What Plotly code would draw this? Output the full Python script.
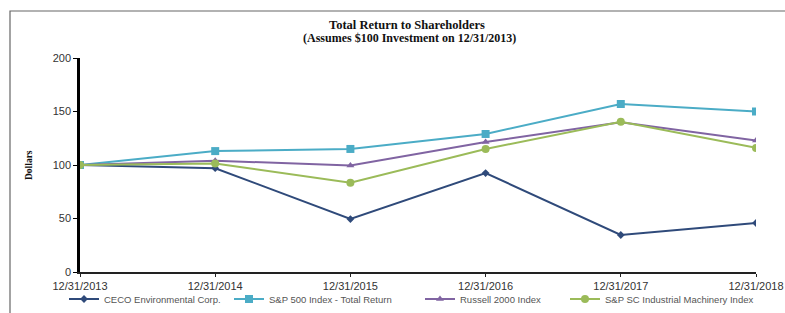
import plotly.graph_objects as go

dates = ["12/31/2013", "12/31/2014", "12/31/2015", "12/31/2016", "12/31/2017", "12/31/2018"]
ceco = [100, 97, 49.5, 92.5, 34.6, 45.8]
sp500 = [100, 113, 115, 129, 157, 150]
russell = [100, 104, 99.5, 121.5, 140, 123]
sc_mach = [100, 101.5, 83.5, 115, 140.5, 116]

series_names = ["CECO Environmental Corp.", "S&P 500 Index - Total Return",
                "Russell 2000 Index", "S&P SC Industrial Machinery Index"]
colors = ["#2F4A7A", "#4BACC6", "#8064A2", "#9BBB59"]
symbols = ["diamond", "square", "triangle-up", "circle"]
sizes = [6, 8, 7, 8]
entry_widths = [120, 146, 100, None]

fig = go.Figure()
for name, vals, c, s, sz, ew in zip(series_names, [ceco, sp500, russell, sc_mach],
                                    colors, symbols, sizes, entry_widths):
    tr = go.Scatter(
        x=dates, y=vals, name=name, mode="lines+markers",
        line=dict(color=c, width=2),
        marker=dict(symbol=s, size=sz, color=c),
    )
    if ew:
        tr.legendwidth = ew
    fig.add_trace(tr)

PW, PH = 676, 214  # plot area size in px
def px_x(x):
    return (x - 80) / PW
def px_y(y):
    return (272 - y) / PH

fig.update_layout(
    width=785, height=313,
    margin=dict(l=80, r=29, t=58, b=41, autoexpand=False),
    paper_bgcolor="white", plot_bgcolor="white",
    showlegend=True,
    legend=dict(
        orientation="h", x=px_x(64), xanchor="left", y=px_y(299), yanchor="middle",
        font=dict(family="Liberation Sans", size=9.5, color="#555"),
        itemwidth=30, tracegroupgap=0, bgcolor="rgba(0,0,0,0)",
    ),
    annotations=[
        dict(text="<b>Total Return to Shareholders</b>", xref="paper", yref="paper",
             x=px_x(407), y=px_y(25), xanchor="center", yanchor="middle",
             showarrow=False, font=dict(family="Liberation Serif", size=12.5, color="#111")),
        dict(text="<b>(Assumes $100 Investment on 12/31/2013)</b>", xref="paper", yref="paper",
             x=px_x(409), y=px_y(38.5), xanchor="center", yanchor="middle",
             showarrow=False, font=dict(family="Liberation Serif", size=12, color="#111")),
        dict(text="<b>Dollars</b>", xref="paper", yref="paper",
             x=px_x(29), y=px_y(165), xanchor="center", yanchor="middle", textangle=-90,
             showarrow=False, font=dict(family="Liberation Serif", size=9.5, color="#111")),
    ],
    shapes=[dict(type="rect", xref="paper", yref="paper",
                 x0=px_x(10), x1=1.2, y0=-0.5, y1=px_y(11),
                 line=dict(color="#666", width=1.2), fillcolor="rgba(0,0,0,0)", layer="below")],
)

fig.update_xaxes(
    type="category", range=[0, 5], showgrid=False, zeroline=False, automargin=False,
    showline=True, linecolor="#222", linewidth=1.5,
    ticks="outside", ticklen=3, tickcolor="#222",
    tickfont=dict(family="Liberation Sans", size=11, color="#333"),
)
fig.update_yaxes(
    range=[0, 200], dtick=50, showgrid=False, zeroline=False, automargin=False,
    showline=True, linecolor="black", linewidth=2.5,
    ticks="outside", ticklen=4, tickcolor="black",
    tickfont=dict(family="Liberation Sans", size=11, color="#333"),
)

fig.write_html("out.html", config={"displayModeBar": False},
               post_script="document.body.style.margin='0';")
